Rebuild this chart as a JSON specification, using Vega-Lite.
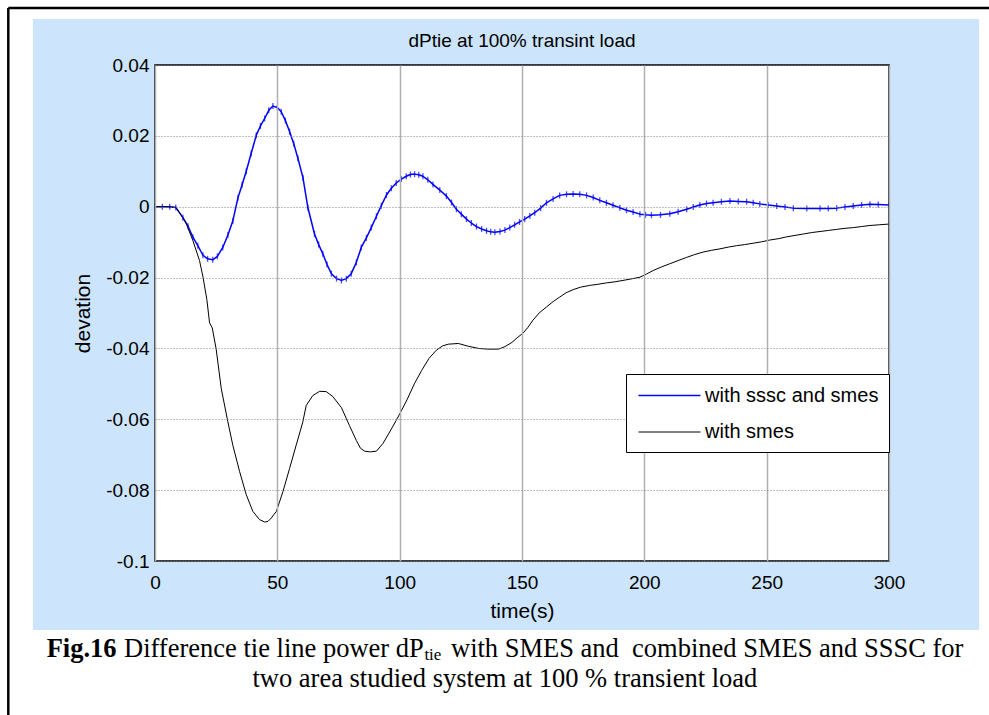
{
  "$schema": "https://vega.github.io/schema/vega-lite/v6.json",
  "width": 734,
  "height": 496,
  "autosize": {"type": "none"},
  "padding": {"left": 155, "top": 65, "right": 100, "bottom": 154},
  "background": "white",
  "config": {
    "view": {"stroke": null},
    "font": "Liberation Sans",
    "axis": {
      "titleFontSize": 21, "titleFontWeight": "normal", "titleColor": "black", "titleFont": "Liberation Sans",
      "labelFontSize": 19, "labelColor": "black", "labelFont": "Liberation Sans", "labelFlush": false, "labelOverlap": false,
      "domain": false, "ticks": false,
      "grid": true
    },
    "axisX": {"labelPadding": 12, "titlePadding": 8, "gridColor": "#b0b0b0", "gridWidth": 1.5},
    "axisY": {"labelPadding": 6, "titlePadding": 12, "gridColor": "#808080", "gridDash": [1, 2], "gridWidth": 1}
  },
  "datasets": {
    "curves": [
      {"t": 0, "v": 0, "series": "with sssc and smes"},
      {"t": 3, "v": 0, "series": "with sssc and smes"},
      {"t": 6, "v": 0, "series": "with sssc and smes"},
      {"t": 8.5, "v": -0.0002, "series": "with sssc and smes"},
      {"t": 11.4, "v": -0.0031, "series": "with sssc and smes"},
      {"t": 13.5, "v": -0.0055, "series": "with sssc and smes"},
      {"t": 15.5, "v": -0.0086, "series": "with sssc and smes"},
      {"t": 17.5, "v": -0.011, "series": "with sssc and smes"},
      {"t": 19.6, "v": -0.0137, "series": "with sssc and smes"},
      {"t": 21.5, "v": -0.0147, "series": "with sssc and smes"},
      {"t": 23.6, "v": -0.015, "series": "with sssc and smes"},
      {"t": 25.5, "v": -0.014, "series": "with sssc and smes"},
      {"t": 27.7, "v": -0.0115, "series": "with sssc and smes"},
      {"t": 29.8, "v": -0.008, "series": "with sssc and smes"},
      {"t": 31.8, "v": -0.004, "series": "with sssc and smes"},
      {"t": 33.9, "v": 0.0025, "series": "with sssc and smes"},
      {"t": 35.6, "v": 0.0062, "series": "with sssc and smes"},
      {"t": 37.3, "v": 0.01, "series": "with sssc and smes"},
      {"t": 39.3, "v": 0.015, "series": "with sssc and smes"},
      {"t": 41.4, "v": 0.0202, "series": "with sssc and smes"},
      {"t": 43.1, "v": 0.0228, "series": "with sssc and smes"},
      {"t": 44.8, "v": 0.0249, "series": "with sssc and smes"},
      {"t": 46.5, "v": 0.0272, "series": "with sssc and smes"},
      {"t": 48.2, "v": 0.0284, "series": "with sssc and smes"},
      {"t": 50, "v": 0.028, "series": "with sssc and smes"},
      {"t": 51.6, "v": 0.0268, "series": "with sssc and smes"},
      {"t": 53.3, "v": 0.0243, "series": "with sssc and smes"},
      {"t": 55, "v": 0.0212, "series": "with sssc and smes"},
      {"t": 56.7, "v": 0.0178, "series": "with sssc and smes"},
      {"t": 58.4, "v": 0.0137, "series": "with sssc and smes"},
      {"t": 60.5, "v": 0.0081, "series": "with sssc and smes"},
      {"t": 62.5, "v": -0.0003, "series": "with sssc and smes"},
      {"t": 65.2, "v": -0.0077, "series": "with sssc and smes"},
      {"t": 66.9, "v": -0.0107, "series": "with sssc and smes"},
      {"t": 68.6, "v": -0.0133, "series": "with sssc and smes"},
      {"t": 70.3, "v": -0.0163, "series": "with sssc and smes"},
      {"t": 72.1, "v": -0.0189, "series": "with sssc and smes"},
      {"t": 74.2, "v": -0.0203, "series": "with sssc and smes"},
      {"t": 76.2, "v": -0.0208, "series": "with sssc and smes"},
      {"t": 78.2, "v": -0.0203, "series": "with sssc and smes"},
      {"t": 80.2, "v": -0.0189, "series": "with sssc and smes"},
      {"t": 82.3, "v": -0.0157, "series": "with sssc and smes"},
      {"t": 84.3, "v": -0.0115, "series": "with sssc and smes"},
      {"t": 86.4, "v": -0.0088, "series": "with sssc and smes"},
      {"t": 88.4, "v": -0.0059, "series": "with sssc and smes"},
      {"t": 90.5, "v": -0.0027, "series": "with sssc and smes"},
      {"t": 92.5, "v": 0.0003, "series": "with sssc and smes"},
      {"t": 94.6, "v": 0.0033, "series": "with sssc and smes"},
      {"t": 96.6, "v": 0.0052, "series": "with sssc and smes"},
      {"t": 98.6, "v": 0.0067, "series": "with sssc and smes"},
      {"t": 100.7, "v": 0.0078, "series": "with sssc and smes"},
      {"t": 102.7, "v": 0.0086, "series": "with sssc and smes"},
      {"t": 104.4, "v": 0.0091, "series": "with sssc and smes"},
      {"t": 106.1, "v": 0.0092, "series": "with sssc and smes"},
      {"t": 107.8, "v": 0.009, "series": "with sssc and smes"},
      {"t": 109.5, "v": 0.0086, "series": "with sssc and smes"},
      {"t": 111.5, "v": 0.0076, "series": "with sssc and smes"},
      {"t": 113.6, "v": 0.0063, "series": "with sssc and smes"},
      {"t": 116.4, "v": 0.0047, "series": "with sssc and smes"},
      {"t": 119.1, "v": 0.003, "series": "with sssc and smes"},
      {"t": 121.2, "v": 0.0012, "series": "with sssc and smes"},
      {"t": 123.2, "v": -0.0007, "series": "with sssc and smes"},
      {"t": 125.2, "v": -0.0021, "series": "with sssc and smes"},
      {"t": 127.3, "v": -0.0035, "series": "with sssc and smes"},
      {"t": 129.3, "v": -0.0046, "series": "with sssc and smes"},
      {"t": 131.4, "v": -0.0056, "series": "with sssc and smes"},
      {"t": 133.5, "v": -0.0063, "series": "with sssc and smes"},
      {"t": 135.5, "v": -0.0068, "series": "with sssc and smes"},
      {"t": 137.2, "v": -0.0071, "series": "with sssc and smes"},
      {"t": 138.9, "v": -0.0072, "series": "with sssc and smes"},
      {"t": 141, "v": -0.007, "series": "with sssc and smes"},
      {"t": 143, "v": -0.0066, "series": "with sssc and smes"},
      {"t": 145, "v": -0.0059, "series": "with sssc and smes"},
      {"t": 147, "v": -0.0051, "series": "with sssc and smes"},
      {"t": 149, "v": -0.0043, "series": "with sssc and smes"},
      {"t": 151.1, "v": -0.0035, "series": "with sssc and smes"},
      {"t": 153.2, "v": -0.0026, "series": "with sssc and smes"},
      {"t": 155.2, "v": -0.0017, "series": "with sssc and smes"},
      {"t": 157.6, "v": -0.0004, "series": "with sssc and smes"},
      {"t": 160, "v": 0.0011, "series": "with sssc and smes"},
      {"t": 162.7, "v": 0.0022, "series": "with sssc and smes"},
      {"t": 165.4, "v": 0.0032, "series": "with sssc and smes"},
      {"t": 168.2, "v": 0.0035, "series": "with sssc and smes"},
      {"t": 170.9, "v": 0.0036, "series": "with sssc and smes"},
      {"t": 173.6, "v": 0.0035, "series": "with sssc and smes"},
      {"t": 176.4, "v": 0.0032, "series": "with sssc and smes"},
      {"t": 179.1, "v": 0.0026, "series": "with sssc and smes"},
      {"t": 181.8, "v": 0.0018, "series": "with sssc and smes"},
      {"t": 184.5, "v": 0.0011, "series": "with sssc and smes"},
      {"t": 187.2, "v": 0.0004, "series": "with sssc and smes"},
      {"t": 190, "v": -0.0003, "series": "with sssc and smes"},
      {"t": 192.7, "v": -0.001, "series": "with sssc and smes"},
      {"t": 195.4, "v": -0.0015, "series": "with sssc and smes"},
      {"t": 198.2, "v": -0.0021, "series": "with sssc and smes"},
      {"t": 200.5, "v": -0.0023, "series": "with sssc and smes"},
      {"t": 202.9, "v": -0.0024, "series": "with sssc and smes"},
      {"t": 206.6, "v": -0.0023, "series": "with sssc and smes"},
      {"t": 210.4, "v": -0.002, "series": "with sssc and smes"},
      {"t": 213.8, "v": -0.0014, "series": "with sssc and smes"},
      {"t": 217.3, "v": -0.0007, "series": "with sssc and smes"},
      {"t": 220, "v": -0.0001, "series": "with sssc and smes"},
      {"t": 222.7, "v": 0.0005, "series": "with sssc and smes"},
      {"t": 225.4, "v": 0.0009, "series": "with sssc and smes"},
      {"t": 228.1, "v": 0.0011, "series": "with sssc and smes"},
      {"t": 231.5, "v": 0.0014, "series": "with sssc and smes"},
      {"t": 235, "v": 0.0016, "series": "with sssc and smes"},
      {"t": 238.4, "v": 0.0015, "series": "with sssc and smes"},
      {"t": 241.8, "v": 0.0014, "series": "with sssc and smes"},
      {"t": 244.5, "v": 0.0011, "series": "with sssc and smes"},
      {"t": 247.2, "v": 0.0008, "series": "with sssc and smes"},
      {"t": 250.6, "v": 0.0005, "series": "with sssc and smes"},
      {"t": 254.1, "v": 0.0002, "series": "with sssc and smes"},
      {"t": 257.5, "v": -0.0001, "series": "with sssc and smes"},
      {"t": 260.9, "v": -0.0004, "series": "with sssc and smes"},
      {"t": 266.4, "v": -0.0005, "series": "with sssc and smes"},
      {"t": 271.8, "v": -0.0005, "series": "with sssc and smes"},
      {"t": 275.2, "v": -0.0005, "series": "with sssc and smes"},
      {"t": 278.6, "v": -0.0004, "series": "with sssc and smes"},
      {"t": 282, "v": -0.0001, "series": "with sssc and smes"},
      {"t": 285.4, "v": 0.0002, "series": "with sssc and smes"},
      {"t": 288.8, "v": 0.0005, "series": "with sssc and smes"},
      {"t": 292.2, "v": 0.0007, "series": "with sssc and smes"},
      {"t": 295.6, "v": 0.0006, "series": "with sssc and smes"},
      {"t": 300, "v": 0.0005, "series": "with sssc and smes"},
      {"t": 0, "v": 0, "series": "with smes"},
      {"t": 4, "v": 0, "series": "with smes"},
      {"t": 8.5, "v": -0.0002, "series": "with smes"},
      {"t": 11.4, "v": -0.0031, "series": "with smes"},
      {"t": 12.8, "v": -0.0048, "series": "with smes"},
      {"t": 15.5, "v": -0.0096, "series": "with smes"},
      {"t": 18.2, "v": -0.0152, "series": "with smes"},
      {"t": 19.6, "v": -0.0198, "series": "with smes"},
      {"t": 21.2, "v": -0.0262, "series": "with smes"},
      {"t": 22.3, "v": -0.0328, "series": "with smes"},
      {"t": 23.4, "v": -0.0342, "series": "with smes"},
      {"t": 25, "v": -0.0402, "series": "with smes"},
      {"t": 27.1, "v": -0.0514, "series": "with smes"},
      {"t": 29.8, "v": -0.0608, "series": "with smes"},
      {"t": 31.8, "v": -0.0673, "series": "with smes"},
      {"t": 34.6, "v": -0.0748, "series": "with smes"},
      {"t": 37.3, "v": -0.0813, "series": "with smes"},
      {"t": 40, "v": -0.086, "series": "with smes"},
      {"t": 42.7, "v": -0.0883, "series": "with smes"},
      {"t": 44.8, "v": -0.089, "series": "with smes"},
      {"t": 46.2, "v": -0.0888, "series": "with smes"},
      {"t": 47.5, "v": -0.0879, "series": "with smes"},
      {"t": 49.6, "v": -0.086, "series": "with smes"},
      {"t": 52.3, "v": -0.0804, "series": "with smes"},
      {"t": 55, "v": -0.0739, "series": "with smes"},
      {"t": 57.7, "v": -0.0673, "series": "with smes"},
      {"t": 60.4, "v": -0.0608, "series": "with smes"},
      {"t": 61.8, "v": -0.0561, "series": "with smes"},
      {"t": 64.5, "v": -0.0533, "series": "with smes"},
      {"t": 67.3, "v": -0.0521, "series": "with smes"},
      {"t": 70, "v": -0.0522, "series": "with smes"},
      {"t": 72.7, "v": -0.0536, "series": "with smes"},
      {"t": 76.2, "v": -0.0567, "series": "with smes"},
      {"t": 79.5, "v": -0.0618, "series": "with smes"},
      {"t": 82.3, "v": -0.066, "series": "with smes"},
      {"t": 84, "v": -0.0682, "series": "with smes"},
      {"t": 85.7, "v": -0.069, "series": "with smes"},
      {"t": 88, "v": -0.0692, "series": "with smes"},
      {"t": 90.5, "v": -0.069, "series": "with smes"},
      {"t": 93.2, "v": -0.0668, "series": "with smes"},
      {"t": 95.9, "v": -0.0636, "series": "with smes"},
      {"t": 98.6, "v": -0.0603, "series": "with smes"},
      {"t": 100, "v": -0.0585, "series": "with smes"},
      {"t": 103, "v": -0.0545, "series": "with smes"},
      {"t": 106, "v": -0.05, "series": "with smes"},
      {"t": 109, "v": -0.0462, "series": "with smes"},
      {"t": 112, "v": -0.0428, "series": "with smes"},
      {"t": 115, "v": -0.0405, "series": "with smes"},
      {"t": 117.5, "v": -0.0393, "series": "with smes"},
      {"t": 119.9, "v": -0.0388, "series": "with smes"},
      {"t": 124, "v": -0.0386, "series": "with smes"},
      {"t": 128.1, "v": -0.0394, "series": "with smes"},
      {"t": 132.3, "v": -0.04, "series": "with smes"},
      {"t": 136, "v": -0.0402, "series": "with smes"},
      {"t": 140.4, "v": -0.0402, "series": "with smes"},
      {"t": 143, "v": -0.0395, "series": "with smes"},
      {"t": 145.9, "v": -0.0383, "series": "with smes"},
      {"t": 148, "v": -0.037, "series": "with smes"},
      {"t": 150.4, "v": -0.0357, "series": "with smes"},
      {"t": 152.5, "v": -0.034, "series": "with smes"},
      {"t": 154.5, "v": -0.032, "series": "with smes"},
      {"t": 157, "v": -0.03, "series": "with smes"},
      {"t": 160, "v": -0.0283, "series": "with smes"},
      {"t": 162.7, "v": -0.0268, "series": "with smes"},
      {"t": 165.4, "v": -0.0255, "series": "with smes"},
      {"t": 168, "v": -0.0243, "series": "with smes"},
      {"t": 170.9, "v": -0.0234, "series": "with smes"},
      {"t": 174, "v": -0.0227, "series": "with smes"},
      {"t": 177.7, "v": -0.0222, "series": "with smes"},
      {"t": 181, "v": -0.0219, "series": "with smes"},
      {"t": 184.5, "v": -0.0215, "series": "with smes"},
      {"t": 188, "v": -0.0212, "series": "with smes"},
      {"t": 191.3, "v": -0.0208, "series": "with smes"},
      {"t": 194.5, "v": -0.0204, "series": "with smes"},
      {"t": 198.2, "v": -0.0199, "series": "with smes"},
      {"t": 200.9, "v": -0.019, "series": "with smes"},
      {"t": 203.6, "v": -0.018, "series": "with smes"},
      {"t": 207, "v": -0.017, "series": "with smes"},
      {"t": 210.4, "v": -0.0161, "series": "with smes"},
      {"t": 213.8, "v": -0.0152, "series": "with smes"},
      {"t": 217.3, "v": -0.0143, "series": "with smes"},
      {"t": 220.6, "v": -0.0135, "series": "with smes"},
      {"t": 224, "v": -0.0128, "series": "with smes"},
      {"t": 227.5, "v": -0.0123, "series": "with smes"},
      {"t": 230.9, "v": -0.0119, "series": "with smes"},
      {"t": 234.3, "v": -0.0114, "series": "with smes"},
      {"t": 237.7, "v": -0.011, "series": "with smes"},
      {"t": 241, "v": -0.0107, "series": "with smes"},
      {"t": 244.5, "v": -0.0103, "series": "with smes"},
      {"t": 248, "v": -0.0099, "series": "with smes"},
      {"t": 251.3, "v": -0.0094, "series": "with smes"},
      {"t": 255, "v": -0.009, "series": "with smes"},
      {"t": 258.2, "v": -0.0085, "series": "with smes"},
      {"t": 261.6, "v": -0.0081, "series": "with smes"},
      {"t": 265, "v": -0.0077, "series": "with smes"},
      {"t": 268.4, "v": -0.0073, "series": "with smes"},
      {"t": 271.8, "v": -0.007, "series": "with smes"},
      {"t": 275.2, "v": -0.0067, "series": "with smes"},
      {"t": 278.6, "v": -0.0064, "series": "with smes"},
      {"t": 282, "v": -0.0061, "series": "with smes"},
      {"t": 285.4, "v": -0.0059, "series": "with smes"},
      {"t": 288.8, "v": -0.0056, "series": "with smes"},
      {"t": 292.2, "v": -0.0053, "series": "with smes"},
      {"t": 296, "v": -0.0051, "series": "with smes"},
      {"t": 300, "v": -0.0049, "series": "with smes"}
    ]
  },
  "layer": [
    {
      "description": "light blue figure panel behind the axes",
      "data": {"values": [{}]},
      "mark": {"type": "rect", "fill": "#cce5fc"},
      "encoding": {
        "x": {"datum": -49.9, "type": "quantitative"},
        "x2": {"datum": 336.8},
        "y": {"datum": 0.05298, "type": "quantitative"},
        "y2": {"datum": -0.11948}
      }
    },
    {
      "description": "white plot area",
      "data": {"values": [{}]},
      "mark": {"type": "rect", "fill": "white"},
      "encoding": {
        "x": {"datum": 0, "type": "quantitative"},
        "x2": {"datum": 300},
        "y": {"datum": 0.04, "type": "quantitative"},
        "y2": {"datum": -0.1}
      }
    },
    {
      "description": "outer frame, left edge",
      "data": {"values": [{}]},
      "mark": {"type": "rule", "stroke": "black", "strokeWidth": 2.5},
      "encoding": {
        "x": {"datum": -59.96, "type": "quantitative"},
        "y": {"datum": 0.05609, "type": "quantitative"},
        "y2": {"datum": -0.16}
      }
    },
    {
      "description": "outer frame, top edge",
      "data": {"values": [{}]},
      "mark": {"type": "rule", "stroke": "black", "strokeWidth": 2.5},
      "encoding": {
        "x": {"datum": -59.96, "type": "quantitative"},
        "x2": {"datum": 360},
        "y": {"datum": 0.05609, "type": "quantitative"}
      }
    },
    {
      "data": {"name": "curves"},
      "mark": {"type": "line", "strokeJoin": "round"},
      "encoding": {
        "x": {
          "field": "t", "type": "quantitative",
          "scale": {"domain": [0, 300], "nice": false, "zero": false},
          "axis": {"values": [0, 50, 100, 150, 200, 250, 300], "title": "time(s)", "zindex": 1}
        },
        "y": {
          "field": "v", "type": "quantitative",
          "scale": {"domain": [-0.1, 0.04], "nice": false, "zero": false},
          "axis": {
            "values": [-0.1, -0.08, -0.06, -0.04, -0.02, 0, 0.02, 0.04],
            "labelExpr": "'' + datum.value",
            "title": "devation", "zindex": 1
          }
        },
        "color": {
          "field": "series", "type": "nominal",
          "scale": {"domain": ["with sssc and smes", "with smes"], "range": ["#0000ff", "#000000"]},
          "legend": {
            "title": null, "orient": "none", "legendX": 471, "legendY": 309,
            "symbolType": "M-3,0H3", "symbolSize": 427, "symbolStrokeWidth": 1.2, "symbolOffset": 22,
            "labelFont": "Liberation Sans", "labelFontSize": 20, "labelColor": "black", "labelOffset": 24, "labelLimit": 400,
            "padding": 10, "rowPadding": 15,
            "strokeColor": "black", "fillColor": "white", "zindex": 2
          }
        },
        "strokeWidth": {
          "field": "series", "type": "nominal",
          "scale": {"domain": ["with sssc and smes", "with smes"], "range": [1.5, 1]},
          "legend": null
        }
      }
    },
    {
      "description": "tick markers on the blue trace",
      "data": {"name": "curves"},
      "transform": [{"filter": "datum.series === 'with sssc and smes'"}],
      "mark": {"type": "point", "shape": "stroke", "angle": 90, "size": 36, "stroke": "#0000ff", "strokeWidth": 1.3, "filled": false},
      "encoding": {
        "x": {"field": "t", "type": "quantitative"},
        "y": {"field": "v", "type": "quantitative"}
      }
    },
    {
      "description": "plot box",
      "data": {"values": [{}]},
      "mark": {"type": "rect", "filled": false, "stroke": "black", "strokeWidth": 1.5},
      "encoding": {
        "x": {"datum": 0, "type": "quantitative"},
        "x2": {"datum": 300},
        "y": {"datum": 0.04, "type": "quantitative"},
        "y2": {"datum": -0.1}
      }
    },
    {
      "description": "axes title",
      "data": {"values": [{}]},
      "mark": {"type": "text", "text": "dPtie at 100% transint load", "font": "Liberation Sans", "fontSize": 19, "align": "center", "baseline": "middle", "color": "black"},
      "encoding": {
        "x": {"datum": 150, "type": "quantitative"},
        "y": {"datum": 0.04677, "type": "quantitative"}
      }
    },
    {
      "description": "caption: bold figure number",
      "data": {"values": [{}]},
      "mark": {"type": "text", "text": "Fig.16", "font": "Liberation Serif", "fontSize": 26.5, "fontWeight": "bold", "align": "left", "baseline": "alphabetic", "color": "black"},
      "encoding": {
        "x": {"datum": -44.27, "type": "quantitative"},
        "y": {"datum": -0.12701, "type": "quantitative"}
      }
    },
    {
      "data": {"values": [{}]},
      "mark": {"type": "text", "text": "Difference tie line power dP", "font": "Liberation Serif", "fontSize": 26.5, "align": "left", "baseline": "alphabetic", "color": "black"},
      "encoding": {
        "x": {"datum": -12.67, "type": "quantitative"},
        "y": {"datum": -0.12701, "type": "quantitative"}
      }
    },
    {
      "description": "caption: subscript",
      "data": {"values": [{}]},
      "mark": {"type": "text", "text": "tie", "font": "Liberation Serif", "fontSize": 17, "align": "left", "baseline": "alphabetic", "color": "black"},
      "encoding": {
        "x": {"datum": 110.1, "type": "quantitative"},
        "y": {"datum": -0.12805, "type": "quantitative"}
      }
    },
    {
      "data": {"values": [{}]},
      "mark": {"type": "text", "text": "with SMES and \u00a0combined SMES and SSSC for", "font": "Liberation Serif", "fontSize": 26.5, "align": "right", "baseline": "alphabetic", "color": "black"},
      "encoding": {
        "x": {"datum": 330.4, "type": "quantitative"},
        "y": {"datum": -0.12701, "type": "quantitative"}
      }
    },
    {
      "data": {"values": [{}]},
      "mark": {"type": "text", "text": "two area studied system at 100 % transient load", "font": "Liberation Serif", "fontSize": 26.5, "align": "center", "baseline": "alphabetic", "color": "black"},
      "encoding": {
        "x": {"datum": 143.0, "type": "quantitative"},
        "y": {"datum": -0.13548, "type": "quantitative"}
      }
    }
  ]
}
